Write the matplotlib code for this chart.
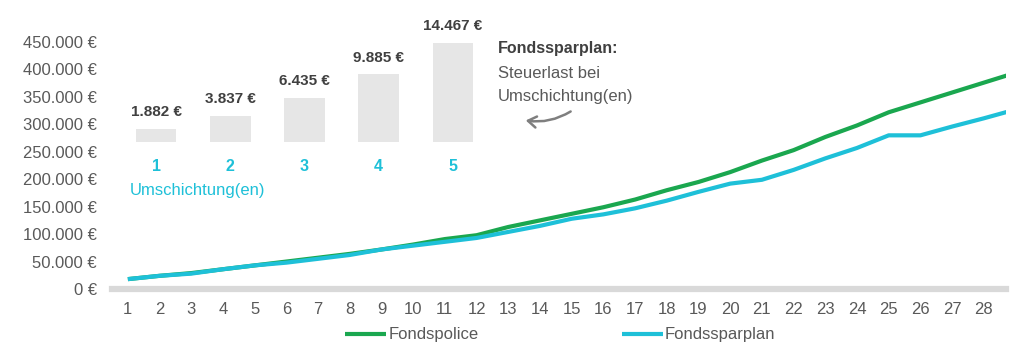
import matplotlib.pyplot as plt
from matplotlib.patches import FancyArrowPatch
from matplotlib.transforms import Bbox

# data
years = list(range(1, 30))
fondspolice = [18, 24, 29, 36, 43, 50, 57, 64, 72, 81, 91, 98, 113, 125, 137,
               149, 163, 180, 195, 213, 234, 253, 277, 298, 322, 340, 358, 376, 394]
fondssparplan = [18, 24, 28, 36, 43, 48, 55, 62, 72, 79, 86, 93, 104, 115, 128,
                 136, 147, 161, 177, 192, 199, 217, 238, 257, 280, 280, 296, 311, 327]
fondspolice = [v * 1000 for v in fondspolice]
fondssparplan = [v * 1000 for v in fondssparplan]

umschichtungen = [1, 2, 3, 4, 5]
steuerlast = [1882, 3837, 6435, 9885, 14467]

yticks = list(range(0, 450001, 50000))

green = '#1aa74f'
cyan = '#1ec0d8'
grey_txt = '#595959'
dark_txt = '#404040'

plt.rcParams['font.family'] = ['Liberation Sans', 'DejaVu Sans']

W, H = 1024, 358
fig = plt.figure(figsize=(W / 100, H / 100), dpi=100)

# main chart
ax = fig.add_axes([112 / W, 69 / H, (1006 - 112) / W, 274.4 / H])
ax.plot(years, fondspolice, color=green, lw=3, label='Fondspolice', solid_capstyle='butt')
ax.plot(years, fondssparplan, color=cyan, lw=3, label='Fondssparplan', solid_capstyle='butt')
ax.set_xticks(years)
ax.set_xticklabels([str(y) for y in years])
ax.set_yticks(yticks)
ax.set_yticklabels([f"{v:,.0f} €".replace(',', '.') for v in yticks])
ax.set_xlim(0.5, 28.7)
ax.set_ylim(0, 500000)
ax.tick_params(axis='both', length=0, labelsize=12, colors=grey_txt)
ax.tick_params(axis='y', pad=11)
ax.tick_params(axis='x', pad=9)
for s in ['left', 'top', 'right']:
    ax.spines[s].set_visible(False)
ax.spines['bottom'].set_color('#d9d9d9')
ax.spines['bottom'].set_linewidth(4.5)
ax.patch.set_alpha(0)

# last year label, cut off at the chart's right edge like in the original
last = ax.annotate(str(years[-1]), xy=(years[-1], 0), xycoords=('data', 'axes fraction'),
                   xytext=(0, -9), textcoords='offset points', ha='center', va='top',
                   fontsize=12, color=grey_txt, annotation_clip=False)
last.set_clip_box(Bbox([[0, 0], [1007, H]]))
last.set_clip_on(True)

fig.legend(loc='center left', bbox_to_anchor=(345 / W, 1 - 335 / H), ncol=2,
           frameon=False, fontsize=12, handlelength=2.45, handletextpad=0.15,
           columnspacing=8.6, borderpad=0, borderaxespad=0, labelcolor=grey_txt)

# inset: tax burden per switch
ax_in = fig.add_axes([118.9 / W, (H - 142) / H, 371.2 / W, 132 / H])
ax_in.bar(umschichtungen, steuerlast, width=0.55, color='#e6e6e6')
ax_in.set_xlim(0.5, 5.5)
ax_in.set_ylim(0, 19300)
ax_in.set_yticks([])
ax_in.set_xticks(umschichtungen)
ax_in.set_xticklabels([str(u) for u in umschichtungen], fontweight='bold',
                      color=cyan, fontsize=11.5)
ax_in.tick_params(axis='x', length=0, pad=12)
for s in ax_in.spines.values():
    s.set_visible(False)
ax_in.patch.set_alpha(0)
for u, v in zip(umschichtungen, steuerlast):
    ax_in.annotate(f"{v:,.0f} €".replace(',', '.'), (u, v), xytext=(0, 7),
                   textcoords='offset points', ha='center', va='bottom',
                   fontsize=11, fontweight='bold', color=dark_txt)

fig.text(130 / W, 1 - 190 / H, 'Umschichtung(en)', color=cyan, fontsize=12,
         ha='left', va='center')

# annotation
fig.text(498 / W, 1 - 48 / H, 'Fondssparplan:', color=dark_txt, fontsize=11.5,
         fontweight='bold', ha='left', va='center')
fig.text(498 / W, 1 - 73 / H, 'Steuerlast bei', color=grey_txt, fontsize=12,
         ha='left', va='center')
fig.text(498 / W, 1 - 96 / H, 'Umschichtung(en)', color=grey_txt, fontsize=12,
         ha='left', va='center')
fig.add_artist(FancyArrowPatch(
    (573 / W, 1 - 110 / H), (523 / W, 1 - 120 / H), transform=fig.transFigure,
    arrowstyle='->,head_length=6,head_width=4', connectionstyle='arc3,rad=-0.2',
    color='#7f7f7f', lw=1.8))

fig.savefig('out.png', dpi=100)
